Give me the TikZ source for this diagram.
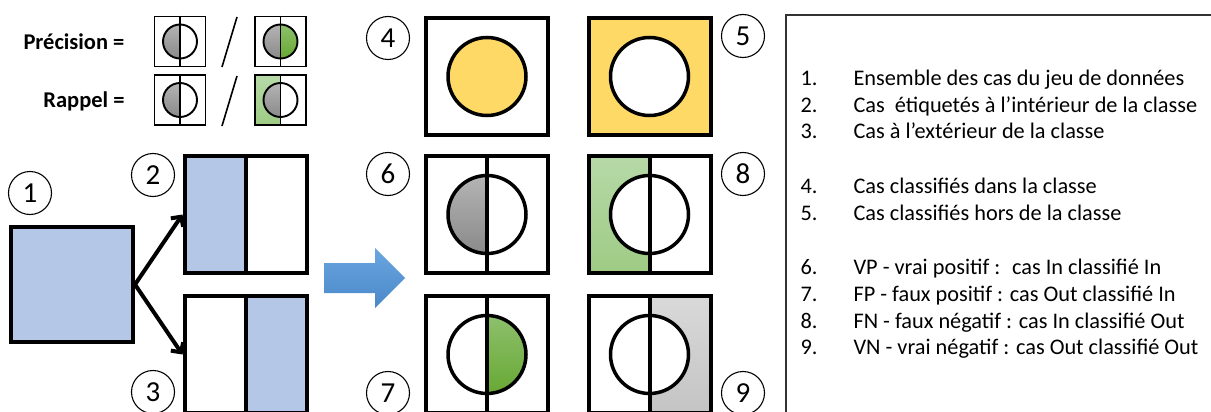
\documentclass[tikz,border=0pt]{standalone}
\usepackage{fontspec}
\setmainfont{Carlito}
\usetikzlibrary{arrows.meta}
\definecolor{lblue}{HTML}{B4C7E7}
\definecolor{yel}{HTML}{FFD966}
\definecolor{arrblueA}{HTML}{6AA6DF}
\definecolor{arrblueB}{HTML}{4A88C9}
\definecolor{grayA}{HTML}{B4B4B4}
\definecolor{grayB}{HTML}{8A8A8A}
\definecolor{lgrayA}{HTML}{D9D9D9}
\definecolor{lgrayB}{HTML}{C4C4C4}
\definecolor{greenA}{HTML}{8DC06C}
\definecolor{greenB}{HTML}{68A834}
\definecolor{lgreenA}{HTML}{B6D9A7}
\definecolor{lgreenB}{HTML}{9ECB84}
\definecolor{frame}{HTML}{333333}
\begin{document}
\begin{tikzpicture}[x=1pt,y=-1pt,
  bigbox/.style={draw, rectangle, line width=4pt, minimum width=122pt, minimum height=117pt, inner sep=0pt},
  bigcirc/.style={draw, circle, line width=3.5pt, minimum size=78pt, inner sep=0pt, fill=white},
  smallbox/.style={draw, rectangle, line width=1.9pt, minimum width=51pt, minimum height=50pt, inner sep=0pt},
  smallcirc/.style={draw, circle, line width=1.9pt, minimum size=34pt, inner sep=0pt, fill=white},
  numc/.style={draw, circle, line width=1.1pt, minimum size=43pt, inner sep=0pt, font=\fontsize{29}{29}\selectfont},
  leftpart/.style={path picture={\path[#1] (path picture bounding box.north west) rectangle (path picture bounding box.south);}},
  rightpart/.style={path picture={\path[#1] (path picture bounding box.north) rectangle (path picture bounding box.south east);}},
  grayandgreen/.style={path picture={
      \path[top color=grayA, bottom color=grayB] (path picture bounding box.north west) rectangle (path picture bounding box.south);
      \path[top color=greenA, bottom color=greenB] (path picture bounding box.north) rectangle (path picture bounding box.south east);}},
  divider/.style={line width=#1},
  barb/.style={line width=4pt, -{Straight Barb[length=7pt,width=15pt]}},
  formula/.style={anchor=east, font=\bfseries\fontsize{22.5}{22.5}\selectfont},
  slash/.style={line width=1.6pt},
  num/.style={anchor=base west, font=\fontsize{22.3}{22.3}\selectfont},
  item/.style={anchor=base west, font=\fontsize{22.3}{22.3}\selectfont}
]
\useasboundingbox (0,0) rectangle (1211,412);
\clip (0,0) rectangle (1211,412);

% ---------- formulas ----------
\node[formula] (prec) at (128,42) {Précision =};
\node[formula] (rapp) at (128,101) {Rappel =};

\node[smallbox] (pa) at (180,41.5) {};
\node[smallcirc, leftpart={top color=grayA, bottom color=grayB}] (pac) at (pa.center) {};
\draw[divider=1.9pt] (pa.north) -- (pa.south);
\draw[slash] (222,67) -- (237,17);
\node[smallbox] (pb) at (280.5,41.5) {};
\node[smallcirc, grayandgreen] (pbc) at (pb.center) {};
\draw[divider=1.9pt] (pb.north) -- (pb.south);

\node[smallbox] (ra) at (180,100) {};
\node[smallcirc, leftpart={top color=grayA, bottom color=grayB}] (rac) at (ra.center) {};
\draw[divider=1.9pt] (ra.north) -- (ra.south);
\draw[slash] (222,126) -- (237,76);
\node[smallbox, leftpart={top color=lgreenA, bottom color=lgreenB}] (rb) at (280.5,100) {};
\node[smallcirc, leftpart={top color=grayA, bottom color=grayB}] (rbc) at (rb.center) {};
\draw[divider=1.9pt] (rb.north) -- (rb.south);

% ---------- left part ----------
\node[bigbox, minimum height=115pt, fill=lblue] (b1) at (72,284.5) {};
\node[bigbox, leftpart={fill=lblue}] (b2) at (245.5,214.5) {};
\draw[divider=4pt] (b2.north) -- (b2.south);
\node[bigbox, rightpart={fill=lblue}] (b3) at (245.5,354.5) {};
\draw[divider=4pt] (b3.north) -- (b3.south);

\draw[barb] (b1.east) -- (b2.west);
\draw[barb] (b1.east) -- (b3.west);

\node[numc] (n1) at (30,193) {1};
\node[numc] (n2) at (153,175) {2};
\node[numc] (n3) at (153,392) {3};

% ---------- big blue arrow ----------
\shade[top color=arrblueA, bottom color=arrblueB]
  (324,263) -- (375,263) -- (375,248) -- (405,278) -- (375,308) -- (375,293) -- (324,293) -- cycle;

% ---------- matrix ----------
\node[bigbox] (b4) at (487,76.5) {};
\node[bigcirc, fill=yel] (c4) at (b4.center) {};
\node[bigbox, fill=yel] (b5) at (649.5,76.5) {};
\node[bigcirc] (c5) at (b5.center) {};

\node[bigbox] (b6) at (487,214.5) {};
\node[bigcirc, leftpart={top color=grayA, bottom color=grayB}] (c6) at (b6.center) {};
\draw[divider=4pt] (b6.north) -- (b6.south);

\node[bigbox, leftpart={top color=lgreenA, bottom color=lgreenB}] (b8) at (649.5,214.5) {};
\node[bigcirc] (c8) at (b8.center) {};
\draw[divider=4pt] (b8.north) -- (b8.south);

\node[bigbox] (b7) at (487,354.5) {};
\node[bigcirc, rightpart={top color=greenA, bottom color=greenB}] (c7) at (b7.center) {};
\draw[divider=4pt] (b7.north) -- (b7.south);

\node[bigbox, rightpart={top color=lgrayA, bottom color=lgrayB}] (b9) at (649.5,354.5) {};
\node[bigcirc] (c9) at (b9.center) {};
\draw[divider=4pt] (b9.north) -- (b9.south);

\node[numc] (n4) at (388,38) {4};
\node[numc] (n5) at (743,36) {5};
\node[numc] (n6) at (388,174) {6};
\node[numc] (n8) at (743,174) {8};
\node[numc] (n7) at (388,393) {7};
\node[numc] (n9) at (743,393) {9};

% ---------- legend ----------
\coordinate (fbl) at (786,420);
\coordinate (ftl) at (786,15);
\coordinate (ftr) at (1220,15);
\draw[line width=1.5pt, frame] (fbl) -- (ftl) -- (ftr);

\node[num] (l1n) at (797,85.5) {1.};
\node[item] (l1) at (850,85.5) {Ensemble des cas du jeu de données};
\node[num] (l2n) at (797,112) {2.};
\node[item] (l2) at (850,112) {Cas~ étiquetés à l’intérieur de la classe};
\node[num] (l3n) at (797,138.5) {3.};
\node[item] (l3) at (850,138.5) {Cas à l’extérieur de la classe};

\node[num] (l4n) at (797,193.5) {4.};
\node[item] (l4) at (850,193.5) {Cas classifiés dans la classe};
\node[num] (l5n) at (797,220) {5.};
\node[item] (l5) at (850,220) {Cas classifiés hors de la classe};

\node[num] (l6n) at (797,274.5) {6.};
\node[item] (l6) at (850,274.5) {VP - vrai positif :~ cas In classifié In};
\node[num] (l7n) at (797,301.5) {7.};
\node[item] (l7) at (850,301.5) {FP - faux positif : cas Out classifié In};
\node[num] (l8n) at (797,328) {8.};
\node[item] (l8) at (850,328) {FN - faux négatif : cas In classifié Out};
\node[num] (l9n) at (797,354.5) {9.};
\node[item] (l9) at (850,354.5) {VN - vrai négatif : cas Out classifié Out};
\end{tikzpicture}
\end{document}
